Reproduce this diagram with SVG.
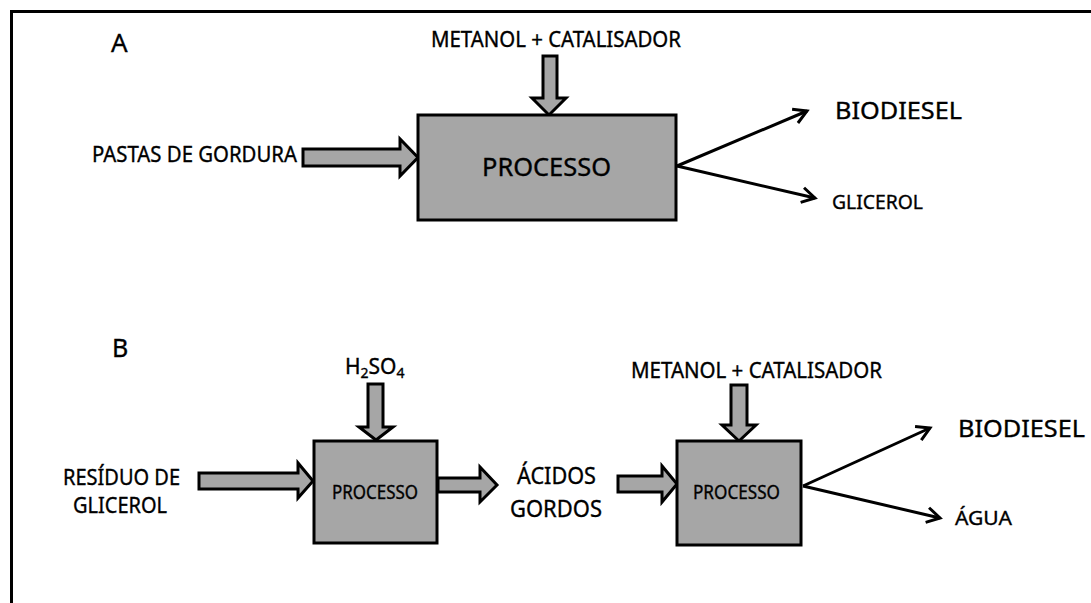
<svg xmlns="http://www.w3.org/2000/svg" width="1091" height="603" viewBox="0 0 1091 603">
<defs>
<style>
.t{font-family:"Noto Sans","Open Sans",sans-serif;fill:#000;stroke:#000;stroke-width:0.35;}
.box{fill:#a6a6a6;stroke:#000;stroke-width:3;}
.blk{fill:#a6a6a6;stroke:#000;stroke-width:3;stroke-linejoin:miter;}
.ln{fill:none;stroke:#000;stroke-width:3;marker-end:url(#v);}
</style>
<marker id="v" markerUnits="userSpaceOnUse" markerWidth="20" markerHeight="20" refX="14" refY="8" orient="auto" viewBox="0 0 20 16">
<path d="M1,0.5 L14,8 L1,15.5" fill="none" stroke="#000" stroke-width="3"/>
</marker>
</defs>
<rect width="1091" height="603" fill="#fff"/>
<path d="M11.5,603 L11.5,11.5 L1091,11.5" fill="none" stroke="#000" stroke-width="3"/>
<text class="t" x="111" y="52" font-size="26">A</text>
<text class="t" x="112" y="357" font-size="25">B</text>

<g id="connectors">
<polygon class="blk" points="303,149 400,149 400,139 418,157.5 400,176 400,166 303,166"/>
<polygon class="blk" points="543,56 557,56 557,98 566,98 549,115 532,98 543,98"/>
<path class="ln" d="M677,166 L807,111"/>
<path class="ln" d="M677,166 L815,198"/>
<polygon class="blk" points="199,473 298,473 298,463 313,481 298,498 298,489 199,489"/>
<polygon class="blk" points="368,384 383,384 383,427 393,427 376,440 359,427 368,427"/>
<polygon class="blk" points="438,478 480,478 480,467 497,485 480,502 480,492 438,492"/>
<polygon class="blk" points="618,476 662,476 662,466 677,484 662,502 662,492 618,492"/>
<polygon class="blk" points="731,385 747,385 747,425 756,425 739,441 722,425 731,425"/>
<path class="ln" d="M803,486 L930,428"/>
<path class="ln" d="M803,486 L940,518"/>
</g>

<g id="procA">
<rect class="box" x="418" y="115" width="258" height="105"/>
<text class="t" x="482" y="176" font-size="25" textLength="129" lengthAdjust="spacingAndGlyphs">PROCESSO</text>
</g>
<g id="metanolA"><text class="t" x="431" y="47" font-size="21" textLength="250" lengthAdjust="spacingAndGlyphs">METANOL + CATALISADOR</text></g>
<g id="pastas"><text class="t" x="92" y="162" font-size="21" textLength="205" lengthAdjust="spacingAndGlyphs">PASTAS DE GORDURA</text></g>
<g id="biodieselA"><text class="t" x="835" y="119" font-size="23" textLength="127" lengthAdjust="spacingAndGlyphs">BIODIESEL</text></g>
<g id="glicerolA"><text class="t" x="832" y="209" font-size="20" textLength="91" lengthAdjust="spacingAndGlyphs">GLICEROL</text></g>

<g id="residuo">
<text class="t" x="63" y="485" font-size="21" textLength="117" lengthAdjust="spacingAndGlyphs">RESÍDUO DE</text>
<text class="t" x="73" y="513" font-size="21" textLength="94" lengthAdjust="spacingAndGlyphs">GLICEROL</text>
</g>
<g id="h2so4"><text class="t" x="345" y="374" font-size="21">H<tspan font-size="14" dy="4">2</tspan><tspan dy="-4">SO</tspan><tspan font-size="14" dy="4">4</tspan></text></g>
<g id="procB1">
<rect class="box" x="314" y="441" width="123" height="102"/>
<text class="t" x="332" y="499" font-size="19" textLength="86" lengthAdjust="spacingAndGlyphs">PROCESSO</text>
</g>
<g id="acidos">
<text class="t" x="517" y="484" font-size="23" textLength="79" lengthAdjust="spacingAndGlyphs">ÁCIDOS</text>
<text class="t" x="510" y="517" font-size="23" textLength="92" lengthAdjust="spacingAndGlyphs">GORDOS</text>
</g>
<g id="metanolB"><text class="t" x="631" y="378" font-size="21" textLength="251" lengthAdjust="spacingAndGlyphs">METANOL + CATALISADOR</text></g>
<g id="procB2">
<rect class="box" x="677" y="441" width="124" height="104"/>
<text class="t" x="693" y="499" font-size="19" textLength="87" lengthAdjust="spacingAndGlyphs">PROCESSO</text>
</g>
<g id="biodieselB"><text class="t" x="958" y="437" font-size="23" textLength="127" lengthAdjust="spacingAndGlyphs">BIODIESEL</text></g>
<g id="agua"><text class="t" x="955" y="525" font-size="20" textLength="57" lengthAdjust="spacingAndGlyphs">ÁGUA</text></g>
</svg>
